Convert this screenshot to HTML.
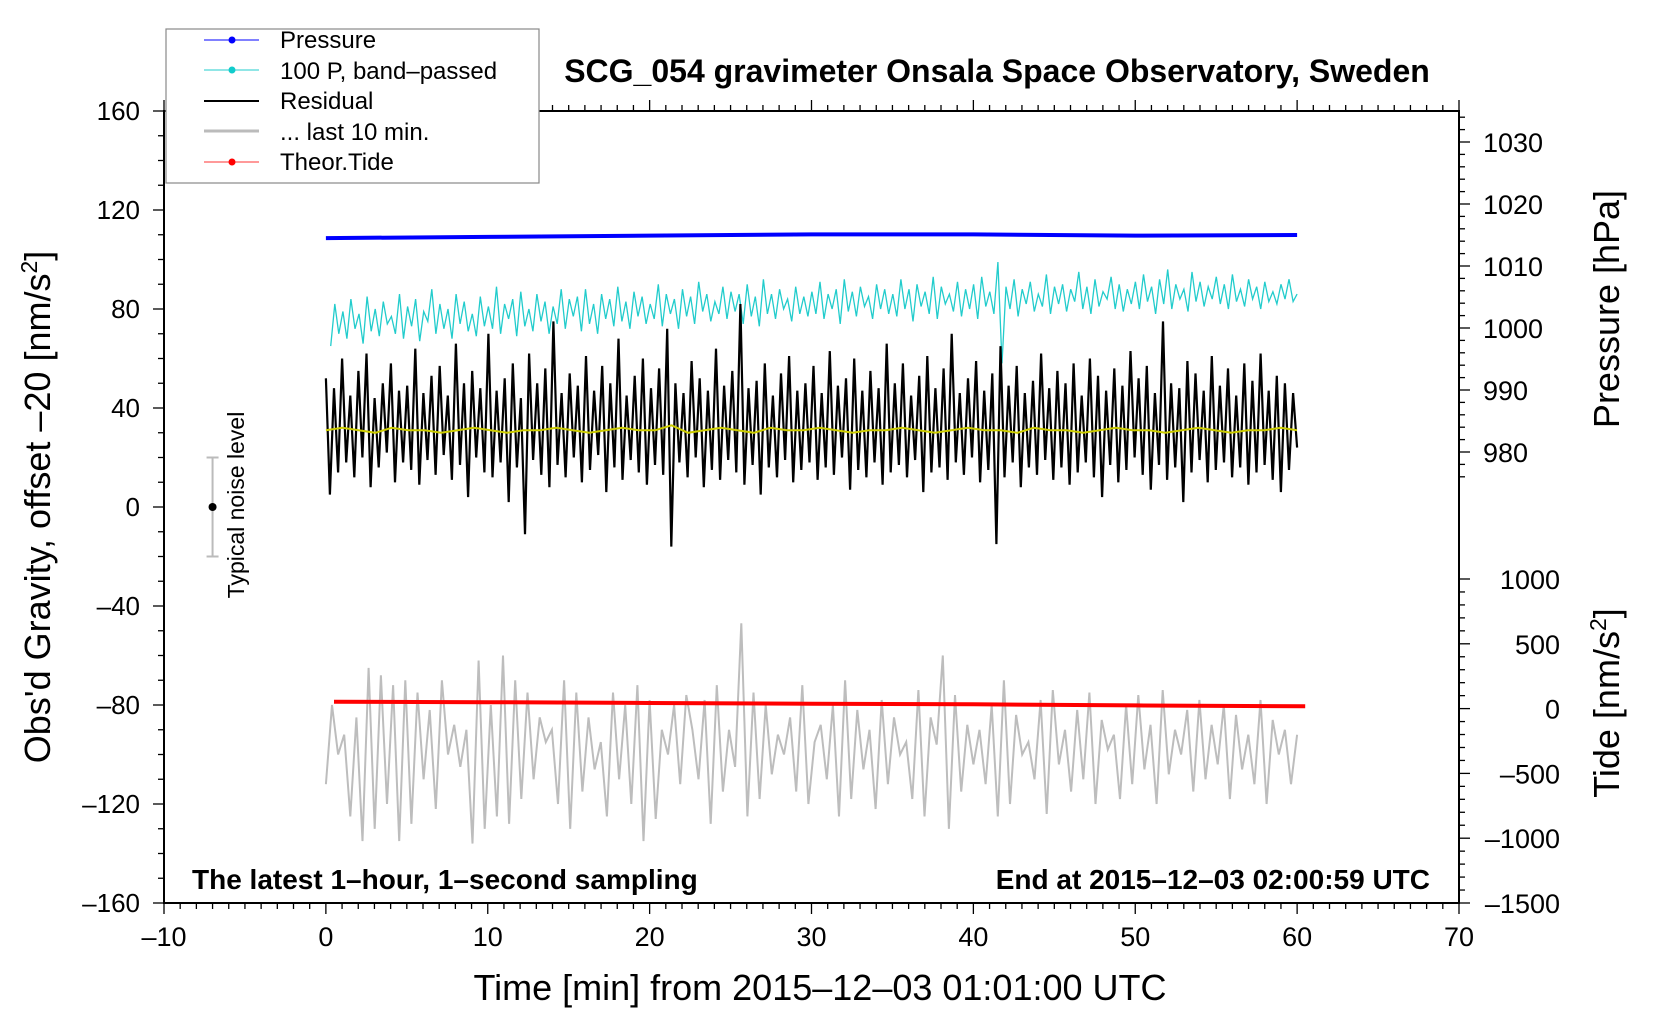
<!DOCTYPE html>
<html><head><meta charset="utf-8">
<style>
html,body{margin:0;padding:0;background:#fff;}
svg{display:block;font-family:"Liberation Sans",sans-serif;}
</style></head>
<body>
<svg id="chart" width="1660" height="1020" viewBox="0 0 1660 1020" xmlns="http://www.w3.org/2000/svg">
<rect x="0" y="0" width="1660" height="1020" fill="#fff"/>
<g id="marks"></g>
<g id="axes"></g>
<text x="997" y="82" font-size="32" font-weight="bold" text-anchor="middle">SCG_054 gravimeter Onsala Space Observatory, Sweden</text>
<text x="192" y="889" font-size="28" font-weight="bold">The latest 1–hour, 1–second sampling</text>
<text x="1430" y="889" font-size="28" font-weight="bold" text-anchor="end">End at 2015–12–03 02:00:59 UTC</text>
<text x="820" y="1000" font-size="36" text-anchor="middle">Time [min] from 2015–12–03 01:01:00 UTC</text>
<text transform="translate(50,507) rotate(-90)" font-size="36" text-anchor="middle">Obs'd Gravity, offset –20 [nm/s<tspan dy="-13" font-size="23">2</tspan><tspan dy="13">]</tspan></text>
<text transform="translate(1619,309) rotate(-90)" font-size="36" text-anchor="middle">Pressure [hPa]</text>
<text transform="translate(1619,703) rotate(-90)" font-size="36" text-anchor="middle">Tide [nm/s<tspan dy="-13" font-size="23">2</tspan><tspan dy="13">]</tspan></text>
<text transform="translate(244,505) rotate(-90)" font-size="23" text-anchor="middle">Typical noise level</text>
<g>
<rect x="166" y="29" width="373" height="154" fill="#fff" stroke="#888" stroke-width="1.2"/>
<g><line x1="204" y1="40" x2="259" y2="40" stroke="#00f" stroke-width="1"/><circle cx="232" cy="40" r="3.5" fill="#00f"/><text x="280" y="48" font-size="24">Pressure</text></g>
<g><line x1="204" y1="70" x2="259" y2="70" stroke="#2cc" stroke-width="1"/><circle cx="232" cy="70" r="3.5" fill="#1cc"/><text x="280" y="79" font-size="24">100 P, band–passed</text></g>
<g><line x1="204" y1="101" x2="259" y2="101" stroke="#000" stroke-width="2"/><text x="280" y="109" font-size="24">Residual</text></g>
<g><line x1="204" y1="131" x2="259" y2="131" stroke="#bbb" stroke-width="3"/><text x="280" y="140" font-size="24">... last 10 min.</text></g>
<g><line x1="204" y1="162" x2="259" y2="162" stroke="#f33" stroke-width="1"/><circle cx="232" cy="162" r="3.5" fill="#f00"/><text x="280" y="170" font-size="24">Theor.Tide</text></g>
</g>
</svg>
<script>
const residual=[52,5,48,14,60,18,45,12,55,20,62,8,44,16,50,22,58,10,47,18,
49,15,64,9,46,19,53,13,57,21,45,11,66,17,50,4,55,20,48,14,
70,12,47,18,52,2,58,16,44,-11,62,19,50,13,56,8,75,17,46,12,
54,20,49,10,61,15,47,21,57,6,50,16,68,11,45,19,53,14,60,9,
48,17,56,13,72,-16,50,18,46,12,59,20,52,8,47,15,64,11,49,19,
55,14,82,9,48,17,51,5,58,16,45,12,54,19,61,10,47,15,50,18,
57,11,46,16,63,13,49,20,52,7,60,15,47,12,55,18,48,9,66,14,
50,17,58,12,45,19,53,6,61,14,48,16,56,11,70,18,46,13,52,20,
59,10,47,15,54,-15,65,12,49,18,57,8,46,16,51,13,62,19,48,11,
55,16,50,9,58,14,45,18,60,12,53,4,47,17,56,10,49,15,63,20,
52,13,57,7,46,17,75,11,50,16,48,2,59,14,54,19,47,10,61,15,
49,18,56,12,45,16,58,9,51,14,62,17,47,11,53,6,50,15,46,24];
const bandPassed=[65,82,70,79,68,84,72,78,66,85,71,80,69,83,74,77,70,86,68,81,
73,84,67,79,75,88,70,82,72,80,68,86,74,83,71,78,69,85,73,81,
72,89,70,82,76,84,69,87,73,80,71,86,75,83,70,81,74,88,72,84,
77,85,71,88,74,82,70,86,76,84,73,89,75,83,72,87,77,85,74,82,
76,90,73,86,78,84,72,88,77,85,74,91,79,86,75,83,78,89,76,87,
79,86,74,90,77,85,73,92,78,86,76,88,80,84,75,89,78,85,77,87,
78,91,76,86,80,88,74,92,79,87,77,89,81,85,76,90,80,88,78,86,
77,92,80,88,75,90,81,87,78,93,76,89,82,86,79,91,77,88,80,90,
76,93,81,87,78,99,58,89,80,92,77,88,82,91,79,86,81,94,78,89,
82,90,79,88,83,95,80,89,78,92,81,87,84,93,80,90,79,88,82,91,
80,94,83,89,78,92,82,96,80,90,84,88,79,95,83,91,81,89,84,93,
82,90,80,94,83,88,81,92,84,89,80,91,83,87,82,90,84,92,83,86];
const smoothed=[31,32,31,30,32,31,31,30,31,32,31,30,31,31,32,31,30,31,32,31,31,33,30,31,32,31,30,32,31,31,32,31,30,31,31,32,31,30,31,32,31,31,30,32,31,31,30,31,32,31,31,30,31,32,31,30,31,31,32,31];
const last10=[-112,-80,-100,-92,-125,-85,-135,-65,-130,-68,-120,-72,-135,-70,-128,-75,-110,-82,-122,-70,
-100,-88,-105,-90,-136,-62,-130,-80,-125,-60,-128,-70,-118,-75,-110,-85,-95,-90,-120,-70,
-130,-75,-115,-85,-106,-95,-125,-75,-110,-80,-120,-72,-135,-78,-126,-90,-100,-80,-112,-76,
-90,-110,-78,-128,-72,-115,-90,-105,-47,-125,-75,-118,-80,-108,-92,-100,-85,-115,-72,-120,
-95,-88,-110,-80,-125,-70,-118,-82,-106,-90,-122,-78,-112,-85,-100,-95,-118,-74,-125,-85,
-96,-60,-130,-76,-115,-88,-104,-90,-112,-80,-125,-70,-120,-84,-100,-95,-110,-78,-124,-74,
-104,-90,-115,-82,-110,-75,-120,-86,-98,-92,-118,-80,-112,-76,-106,-88,-120,-74,-108,-90,
-100,-82,-115,-78,-110,-88,-104,-80,-118,-84,-106,-92,-112,-78,-120,-86,-100,-90,-112,-92];
const pressureTimes=[0,10,20,30,40,50,60];
const pressure=[1014.5,1014.7,1014.9,1015.1,1015.1,1014.9,1015.0];
const tideTimes=[0.5,10,20,30,40,50,60.5];
const tide=[53,49,43,38,33,25,18];
const xTicks=[-10,0,10,20,30,40,50,60,70];
const yTicks=[-160,-120,-80,-40,0,40,80,120,160];
const pTicks=[980,990,1000,1010,1020,1030];
const tTicks=[-1500,-1000,-500,0,500,1000];

const NS="http://www.w3.org/2000/svg";
const X=t=>164+(t+10)*1295/80;
const YL=v=>507-v*2.475;
const YP=p=>142+(1030-p)*6.2;
const YT=v=>708.6-v*0.1296;
const marks=document.getElementById('marks');
const axes=document.getElementById('axes');
function mk(tag,attrs,parent){const e=document.createElementNS(NS,tag);for(const k in attrs)e.setAttribute(k,attrs[k]);parent.appendChild(e);return e;}
function poly(vals,t0,t1,yf){const n=vals.length;return vals.map((v,i)=>X(t0+(t1-t0)*i/(n-1)).toFixed(1)+','+yf(v).toFixed(1)).join(' ');}
function polyT(times,vals,yf){return vals.map((v,i)=>X(times[i]).toFixed(1)+','+yf(v).toFixed(1)).join(' ');}

let e;
e=mk('polyline',{points:poly(last10,0,60,YL),fill:'none',stroke:'#bdbdbd','stroke-width':2},marks);


e=mk('polyline',{points:poly(bandPassed,0.3,60,YL),fill:'none',stroke:'#22cccc','stroke-width':1.3},marks);


e=mk('polyline',{points:poly(residual,0,60,YL),fill:'none',stroke:'#000','stroke-width':2.2},marks);


e=mk('polyline',{points:poly(smoothed,0,60,YL),fill:'none',stroke:'#cccc00','stroke-width':2},marks);


e=mk('polyline',{points:polyT(pressureTimes,pressure,YP),fill:'none',stroke:'#0000ff','stroke-width':4},marks);


e=mk('polyline',{points:polyT(tideTimes,tide,YT),fill:'none',stroke:'#ff0000','stroke-width':4},marks);



e=mk('g',{},marks);


mk('line',{x1:X(-7),x2:X(-7),y1:YL(20),y2:YL(-20),stroke:'#bbb','stroke-width':2},e);
mk('line',{x1:X(-7)-6,x2:X(-7)+6,y1:YL(20),y2:YL(20),stroke:'#bbb','stroke-width':2},e);
mk('line',{x1:X(-7)-6,x2:X(-7)+6,y1:YL(-20),y2:YL(-20),stroke:'#bbb','stroke-width':2},e);
mk('circle',{cx:X(-7),cy:YL(0),r:4,fill:'#000'},e);

e=mk('rect',{x:164,y:111,width:1295,height:792,fill:'none',stroke:'#000','stroke-width':2},axes);


for(let t=-10;t<=70;t++){const maj=t%10===0;
 mk('line',{x1:X(t),x2:X(t),y1:903,y2:903+(maj?11:6),stroke:'#000','stroke-width':1.3},axes);
 mk('line',{x1:X(t),x2:X(t),y1:111,y2:111-(maj?11:6),stroke:'#000','stroke-width':1.3},axes);}
xTicks.forEach(t=>{e=mk('text',{x:X(t),y:946,'font-size':27,'text-anchor':'middle'},axes);e.textContent=String(t).replace('-','–');

});
for(let v=-160;v<=160;v+=10){const maj=v%40===0;mk('line',{x1:164,x2:164-(maj?11:6),y1:YL(v),y2:YL(v),stroke:'#000','stroke-width':1.3},axes);}
yTicks.forEach(v=>{e=mk('text',{x:140,y:YL(v)+9,'font-size':26,'text-anchor':'end'},axes);e.textContent=String(v).replace('-','–');

});
for(let p=976;p<=1034;p+=2){const maj=p%10===0;mk('line',{x1:1459,x2:1459+(maj?11:6),y1:YP(p),y2:YP(p),stroke:'#000','stroke-width':1.3},axes);}
pTicks.forEach(p=>{e=mk('text',{x:1483,y:YP(p)+10,'font-size':27},axes);e.textContent=p;

});
for(let v=-1500;v<=1000;v+=100){const maj=v%500===0;mk('line',{x1:1459,x2:1459+(maj?11:6),y1:YT(v),y2:YT(v),stroke:'#000','stroke-width':1.3},axes);}
tTicks.forEach(v=>{e=mk('text',{x:1560,y:YT(v)+10,'font-size':27,'text-anchor':'end'},axes);e.textContent=String(v).replace('-','–');

});
</script>
</body></html>
